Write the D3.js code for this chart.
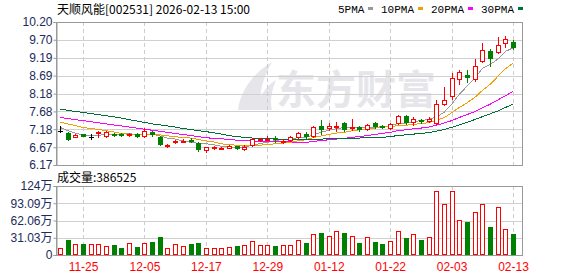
<!DOCTYPE html>
<html>
<head>
<meta charset="utf-8">
<script src="https://cdn.jsdelivr.net/npm/d3@7"></script>
<style>
body { margin: 0; background: #fff; }
svg { display: block; }
text { font-family: "Liberation Sans", Arial, sans-serif; }
</style>
</head>
<body>
<div id="chart"></div>
<script>
var dates = ["11-20","11-21","11-24","11-25","11-26","11-27","11-28",
  "12-01","12-02","12-03","12-04","12-05","12-08","12-09","12-10","12-11","12-12",
  "12-15","12-16","12-17","12-18","12-19","12-22","12-23","12-24","12-25","12-26",
  "12-29","12-30","12-31","01-05","01-06","01-07","01-08","01-09","01-12","01-13",
  "01-14","01-15","01-16","01-19","01-20","01-21","01-22","01-23","01-26","01-27",
  "01-28","01-29","01-30","02-02","02-03","02-04","02-05","02-06","02-09","02-10",
  "02-11","02-12","02-13"];

var opens = [7.14,7.07,6.96,7.04,6.97,7.08,6.99,7.05,7.03,7.02,7.03,7.00,7.10,6.97,6.72,6.81,6.84,6.88,6.80,6.59,
  6.66,6.64,6.66,6.70,6.63,6.73,6.88,6.89,6.92,6.83,6.88,6.95,7.05,7.00,7.28,7.20,7.25,7.36,7.21,7.23,
  7.18,7.34,7.27,7.22,7.35,7.55,7.37,7.44,7.40,7.36,7.90,8.11,8.59,8.70,8.59,9.09,9.38,9.36,9.62,9.64];
var highs = [7.26,7.09,7.03,7.05,7.05,7.12,7.12,7.08,7.06,7.08,7.07,7.20,7.13,6.99,6.77,6.87,6.90,6.92,6.81,6.68,
  6.71,6.68,6.73,6.71,6.72,6.93,6.93,6.98,6.99,6.91,6.98,7.10,7.09,7.26,7.44,7.35,7.37,7.38,7.47,7.27,
  7.33,7.38,7.29,7.35,7.58,7.58,7.52,7.48,7.52,8.01,8.36,8.77,8.86,8.84,9.15,9.60,9.45,9.77,9.81,9.70];
var lows = [7.11,6.88,6.95,6.98,6.90,6.97,6.95,7.00,6.98,7.00,6.97,6.97,7.00,6.74,6.69,6.79,6.81,6.82,6.56,6.55,
  6.62,6.61,6.64,6.62,6.58,6.70,6.86,6.87,6.83,6.80,6.86,6.93,6.92,6.97,7.03,7.17,7.14,7.12,7.17,7.12,
  7.16,7.22,7.20,7.19,7.33,7.33,7.31,7.35,7.38,7.33,7.87,8.03,8.46,8.51,8.53,9.06,8.95,9.33,9.50,9.44];
var closes = [7.14,6.90,7.02,6.99,6.97,7.11,7.09,7.02,7.01,7.04,7.00,7.12,7.03,6.77,6.74,6.84,6.86,6.85,6.62,6.67,
  6.69,6.66,6.71,6.64,6.69,6.90,6.90,6.91,6.89,6.86,6.96,7.07,6.99,7.23,7.19,7.28,7.27,7.18,7.23,7.19,
  7.30,7.26,7.25,7.33,7.54,7.37,7.47,7.41,7.48,7.88,8.00,8.63,8.79,8.66,8.96,9.40,9.19,9.56,9.72,9.50];

// volume in 万 shares
var volumes = [12.6,27,19.8,19.8,19.8,19.8,16.2,18,12.6,21,14.4,21.6,23.4,32.4,12.6,19.8,16.2,19.8,21.6,12.6,
  12.6,12.6,14.4,16.2,18,25.2,18,18,16.2,18,17.4,27,21.6,37.8,40.2,34.2,43.2,40.2,34.2,21.6,
  32.4,24,19.8,25.2,43.2,30.6,37.8,27,32.4,115,91.7,115,63,60,77.3,91.7,51,86.3,46.8,38.6525];

var ma5 = [7.23,7.14,7.07,7.02,7.00,7.00,7.04,7.04,7.04,7.05,7.03,7.04,7.04,6.99,6.93,6.90,6.85,6.81,6.78,6.77,
  6.74,6.70,6.67,6.67,6.68,6.72,6.77,6.81,6.86,6.89,6.90,6.94,6.95,7.02,7.09,7.15,7.19,7.23,7.23,7.23,
  7.23,7.23,7.25,7.27,7.34,7.35,7.39,7.42,7.45,7.52,7.65,7.88,8.16,8.39,8.61,8.89,9.00,9.15,9.37,9.47];
var ma10 = [7.38,7.33,7.28,7.23,7.20,7.17,7.14,7.10,7.06,7.03,7.02,7.04,7.04,7.02,6.99,6.97,6.94,6.93,6.89,6.85,
  6.82,6.77,6.74,6.73,6.72,6.73,6.73,6.74,6.77,6.79,6.81,6.85,6.88,6.94,6.99,7.03,7.07,7.09,7.13,7.16,
  7.19,7.21,7.24,7.25,7.28,7.29,7.31,7.34,7.36,7.43,7.50,7.64,7.79,7.92,8.07,8.27,8.44,8.66,8.88,9.04];
var ma20 = [7.51,7.48,7.45,7.42,7.39,7.36,7.33,7.30,7.27,7.24,7.21,7.18,7.15,7.12,7.09,7.06,7.03,7.00,6.97,6.94,
  6.92,6.91,6.89,6.87,6.86,6.85,6.84,6.83,6.83,6.82,6.82,6.81,6.81,6.83,6.86,6.88,6.90,6.92,6.95,6.97,
  7.00,7.03,7.06,7.09,7.14,7.16,7.19,7.21,7.24,7.29,7.35,7.42,7.51,7.59,7.67,7.78,7.88,8.00,8.12,8.24];
var ma30 = [7.75,7.71,7.68,7.65,7.62,7.59,7.56,7.53,7.49,7.45,7.41,7.37,7.33,7.30,7.27,7.24,7.20,7.17,7.14,7.11,
  7.08,7.04,7.00,6.97,6.95,6.93,6.92,6.91,6.90,6.89,6.88,6.89,6.89,6.90,6.90,6.91,6.91,6.92,6.93,6.93,
  6.94,6.95,6.95,6.97,7.00,7.02,7.04,7.06,7.08,7.12,7.17,7.23,7.30,7.37,7.45,7.53,7.61,7.69,7.79,7.88];

var priceTicks = [6.17, 6.67, 7.18, 7.68, 8.18, 8.69, 9.19, 9.70, 10.20];
var volTicks = [0, 31.03, 62.06, 93.09, 124.12];
var volTickLabels = ["0", "31.03万", "62.06万", "93.09万", "124万"];
var dateTicks = ["11-25", "12-05", "12-17", "12-29", "01-12", "01-22", "02-03", "02-13"];
var maNames = ["5PMA", "10PMA", "20PMA", "30PMA"];
var maColors = ["#999999", "#f0a000", "#ff00ff", "#00703a"];

var RED = "#ff0000", GREEN = "#008000";
var width = 578, height = 276;
var left = 56, right = 522;
var mainTop = 22, mainBottom = 165;
var volTop = 186, volBottom = 255;

var svg = d3.select("#chart").append("svg")
  .attr("width", width)
  .attr("height", height);

var xScale = d3.scalePoint().domain(dates).range([60, 513]);
var yScale = d3.scaleLinear().domain([6.17, 10.20]).range([mainBottom, mainTop]);
var vScale = d3.scaleLinear().domain([0, 124.12]).range([volBottom, volTop]);

function cx(d) { return Math.round(xScale(d)); }

// watermark
var wm = svg.append("g").attr("fill", "#e6e6ea");
wm.append("path")
  .attr("d", "M238,110 C240,92 252,74 272,62 C262,80 258,96 262,110 Z M256,110 C258,98 266,86 276,80 C271,92 270,102 272,110 Z");
wm.append("text")
  .attr("x", 276).attr("y", 104)
  .attr("font-size", "40px")
  .attr("font-weight", "bold")
  .style("font-family", "'Noto Sans CJK SC', sans-serif")
  .text("东方财富");

// grid
var grid = svg.append("g").attr("shape-rendering", "crispEdges");
grid.selectAll(".hgrid").data(priceTicks).enter().append("line")
  .attr("x1", left).attr("x2", right)
  .attr("y1", (d) => Math.round(yScale(d)) + 0.5)
  .attr("y2", (d) => Math.round(yScale(d)) + 0.5)
  .attr("stroke", "#d0d0d0");
grid.selectAll(".vhgrid").data(volTicks).enter().append("line")
  .attr("x1", left).attr("x2", right)
  .attr("y1", (d) => Math.round(vScale(d)) + 0.5)
  .attr("y2", (d) => Math.round(vScale(d)) + 0.5)
  .attr("stroke", "#d0d0d0");
grid.selectAll(".vgrid").data(dateTicks).enter().append("line")
  .attr("x1", (d) => cx(d) + 0.5).attr("x2", (d) => cx(d) + 0.5)
  .attr("y1", mainTop).attr("y2", mainBottom)
  .attr("stroke", "#cccccc").attr("stroke-dasharray", "4,3");
grid.selectAll(".vvgrid").data(dateTicks).enter().append("line")
  .attr("x1", (d) => cx(d) + 0.5).attr("x2", (d) => cx(d) + 0.5)
  .attr("y1", volTop).attr("y2", volBottom)
  .attr("stroke", "#cccccc").attr("stroke-dasharray", "4,3");

// frames
grid.append("rect").attr("x", left + 0.5).attr("y", mainTop + 0.5)
  .attr("width", right - left).attr("height", mainBottom - mainTop)
  .attr("fill", "none").attr("stroke", "#999");
grid.append("rect").attr("x", left + 0.5).attr("y", volTop + 0.5)
  .attr("width", right - left).attr("height", volBottom - volTop)
  .attr("fill", "none").attr("stroke", "#999");

// axes
var yAxis = d3.axisLeft(yScale).tickValues(priceTicks).tickSize(3).tickFormat(d3.format(".2f"));
var yAxisGroup = svg.append("g")
  .attr("transform", "translate(" + (left + 0.5) + ",0)")
  .call(yAxis);
var vAxis = d3.axisLeft(vScale).tickValues(volTicks).tickSize(3)
  .tickFormat((d, i) => volTickLabels[i]);
var vAxisGroup = svg.append("g")
  .attr("transform", "translate(" + (left + 0.5) + ",0)")
  .call(vAxis);
[yAxisGroup, vAxisGroup].forEach(function(g) {
  g.select(".domain").attr("stroke", "#999");
  g.selectAll(".tick line").attr("stroke", "#999");
  g.selectAll(".tick text")
    .attr("fill", "#1c2b5a")
    .attr("x", -4)
    .style("font-size", "12px")
    .style("font-family", "'Liberation Sans', 'Noto Sans CJK SC', sans-serif");
});

var xAxis = d3.axisBottom(xScale).tickValues(dateTicks).tickSize(0);
var xAxisGroup = svg.append("g")
  .attr("transform", "translate(0," + volBottom + ")")
  .call(xAxis);
xAxisGroup.select(".domain").remove();
xAxisGroup.selectAll(".tick text")
  .attr("fill", RED)
  .attr("y", 7)
  .style("font-size", "12px");

// moving averages
var maSeries = [ma5, ma10, ma20, ma30];
var maLine = d3.line()
  .x((d, i) => xScale(dates[i]))
  .y((d) => yScale(d));
svg.append("g").selectAll(".ma").data(maSeries).enter().append("path")
  .attr("d", maLine)
  .attr("fill", "none")
  .attr("stroke", (d, i) => maColors[i])
  .attr("stroke-width", 1)
  .attr("shape-rendering", "crispEdges");

// candles
var candles = dates.map(function(d, i) {
  return { date: d, o: opens[i], h: highs[i], l: lows[i], c: closes[i], v: volumes[i] };
});
function candleColor(d) { return d.c > d.o ? RED : (d.c < d.o ? GREEN : "#000"); }

var cg = svg.append("g").attr("shape-rendering", "crispEdges");
var candle = cg.selectAll(".candle").data(candles).enter().append("g").attr("class", "candle");
candle.append("line")
  .attr("x1", (d) => cx(d.date) + 0.5).attr("x2", (d) => cx(d.date) + 0.5)
  .attr("y1", (d) => Math.round(yScale(d.h))).attr("y2", (d) => Math.round(yScale(d.l)) + 1)
  .attr("stroke", candleColor);
candle.each(function(d) {
  var g = d3.select(this);
  var x0 = cx(d.date);
  var top = Math.round(yScale(Math.max(d.o, d.c)));
  var bot = Math.round(yScale(Math.min(d.o, d.c)));
  if (d.c > d.o) {
    g.append("rect")
      .attr("x", x0 - 1.5).attr("y", top + 0.5)
      .attr("width", 4).attr("height", Math.max(1, bot - top))
      .attr("fill", "#fff").attr("stroke", RED);
  } else if (d.c < d.o) {
    g.append("rect")
      .attr("x", x0 - 2).attr("y", top)
      .attr("width", 5).attr("height", Math.max(1, bot - top + 1))
      .attr("fill", GREEN);
  } else {
    g.append("line")
      .attr("x1", x0 - 2).attr("x2", x0 + 3)
      .attr("y1", top + 0.5).attr("y2", top + 0.5)
      .attr("stroke", "#000");
  }
});

// volume bars
var vg = svg.append("g").attr("shape-rendering", "crispEdges");
vg.selectAll(".vol").data(candles).enter().append("rect")
  .attr("x", (d) => d.c >= d.o ? cx(d.date) - 1.5 : cx(d.date) - 2)
  .attr("y", (d) => Math.round(vScale(d.v)) + (d.c >= d.o ? 0.5 : 0))
  .attr("width", (d) => d.c >= d.o ? 4 : 5)
  .attr("height", (d) => volBottom - Math.round(vScale(d.v)) - (d.c >= d.o ? 1 : 0))
  .attr("fill", (d) => d.c >= d.o ? "#fff" : GREEN)
  .attr("stroke", (d) => d.c >= d.o ? RED : "none");

// header texts
svg.append("text")
  .attr("x", 57).attr("y", 14)
  .style("font-family", "'Noto Sans CJK SC', sans-serif")
  .style("font-size", "12px")
  .attr("fill", "#000")
  .text("天顺风能[002531] 2026-02-13 15:00");

svg.append("text")
  .attr("x", 57).attr("y", 182)
  .style("font-family", "'Noto Sans CJK SC', sans-serif")
  .style("font-size", "12px")
  .attr("fill", "#000")
  .text("成交量:" + Math.round(volumes[volumes.length - 1] * 10000));

// legend
var lx = 338;
maNames.forEach(function(name, i) {
  var t = svg.append("text")
    .attr("x", lx).attr("y", 13)
    .style("font-family", "'Liberation Mono', monospace")
    .style("font-size", "11px")
    .attr("fill", "#000")
    .text(name);
  var end = lx + t.node().getComputedTextLength();
  svg.append("rect")
    .attr("x", Math.round(end) + 4).attr("y", 7)
    .attr("width", 5).attr("height", 3)
    .attr("fill", maColors[i]);
  lx = Math.round(end) + 17;
});
</script>
</body>
</html>
